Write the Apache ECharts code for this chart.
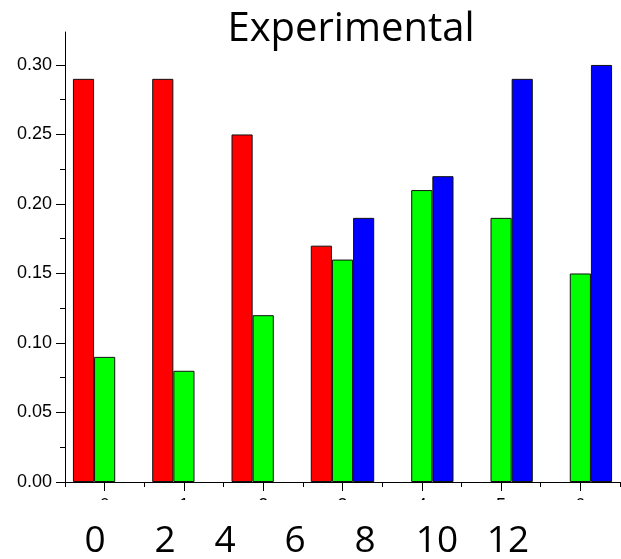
<!DOCTYPE html>
<html>
<head>
<meta charset="utf-8">
<script src="https://cdn.jsdelivr.net/npm/echarts@6/dist/echarts.min.js"></script>
<style>html,body{margin:0;padding:0;background:#fff}#c{width:621px;height:559px}</style>
</head>
<body>
<div id="c"></div>
<script>
// ---- data ----
const categories = ['0', '1', '2', '3', '4', '5', '6'];
const redValues = [0.29, 0.29, 0.25, 0.17, '-', '-', '-'];
const greenValues = [0.09, 0.08, 0.12, 0.16, 0.21, 0.19, 0.15];
const blueValues = ['-', '-', '-', 0.19, 0.22, 0.29, 0.30];
const yTickValues = [0, 0.05, 0.10, 0.15, 0.20, 0.25, 0.30];
const yMinorTickValues = [0.025, 0.075, 0.125, 0.175, 0.225, 0.275];
const bottomLabels = ['0', '2', '4', '6', '8', '10', '12'];
const titleText = 'Experimental';

// ---- layout ----
const bottomLabelX = [95, 165, 225, 295, 365, 437, 508];
const yMax = 0.3237;

const chart = echarts.init(document.getElementById('c'));

function barSeries(name, data, color) {
  return {
    name: name, type: 'bar', data: data, barGap: 0, barCategoryGap: '20%',
    xAxisIndex: 0, yAxisIndex: 0,
    itemStyle: { color: color, borderColor: '#111', borderWidth: 1 },
    animation: false
  };
}

const graphics = [
  { type: 'text', x: 351, y: 30, z: 100,
    style: { text: titleText, font: '40px "Open Sans"', fill: '#000', textAlign: 'center', textVerticalAlign: 'middle' } },
  { type: 'rect', shape: { x: 0, y: 500, width: 621, height: 20 }, z: 90,
    style: { fill: '#fff' } }
];
bottomLabels.forEach((t, i) => {
  graphics.push({ type: 'text', x: bottomLabelX[i], y: 541, z: 100,
    style: { text: t, font: '37px "Open Sans"', fill: '#000', textAlign: 'center', textVerticalAlign: 'middle' } });
});

chart.setOption({
  animation: false,
  backgroundColor: '#fff',
  grid: { left: 65, right: 1, top: 32, bottom: 77, containLabel: false },
  xAxis: [
    { type: 'category', data: categories, position: 'bottom',
      axisLine: { show: true, lineStyle: { color: '#000', width: 1 } },
      axisTick: { show: true, alignWithLabel: true, length: 9, lineStyle: { color: '#000' } },
      axisLabel: { show: true, color: '#000', fontSize: 18, fontFamily: 'Liberation Sans', margin: 15 },
      splitLine: { show: false } },
    { type: 'category', data: categories, position: 'bottom',
      axisLine: { show: false },
      axisTick: { show: true, length: 5, lineStyle: { color: '#000' } },
      axisLabel: { show: false }, splitLine: { show: false } }
  ],
  yAxis: [
    { type: 'value', min: 0, max: yMax,
      axisLine: { show: true, lineStyle: { color: '#000', width: 1 } },
      axisTick: { show: true, length: 9, customValues: yTickValues, lineStyle: { color: '#000' } },
      axisLabel: { show: true, customValues: yTickValues, color: '#000', fontSize: 18, fontFamily: 'Liberation Sans', margin: 13,
        formatter: v => v.toFixed(2) },
      splitLine: { show: false } },
    { type: 'value', min: 0, max: yMax, position: 'left',
      axisLine: { show: false },
      axisTick: { show: true, length: 5, customValues: yMinorTickValues, lineStyle: { color: '#000' } },
      axisLabel: { show: false, customValues: yMinorTickValues }, splitLine: { show: false } }
  ],
  series: [
    barSeries('red', redValues, '#ff0000'),
    barSeries('green', greenValues, '#00ff00'),
    barSeries('blue', blueValues, '#0000ff')
  ],
  graphic: graphics
});
</script>
</body>
</html>
